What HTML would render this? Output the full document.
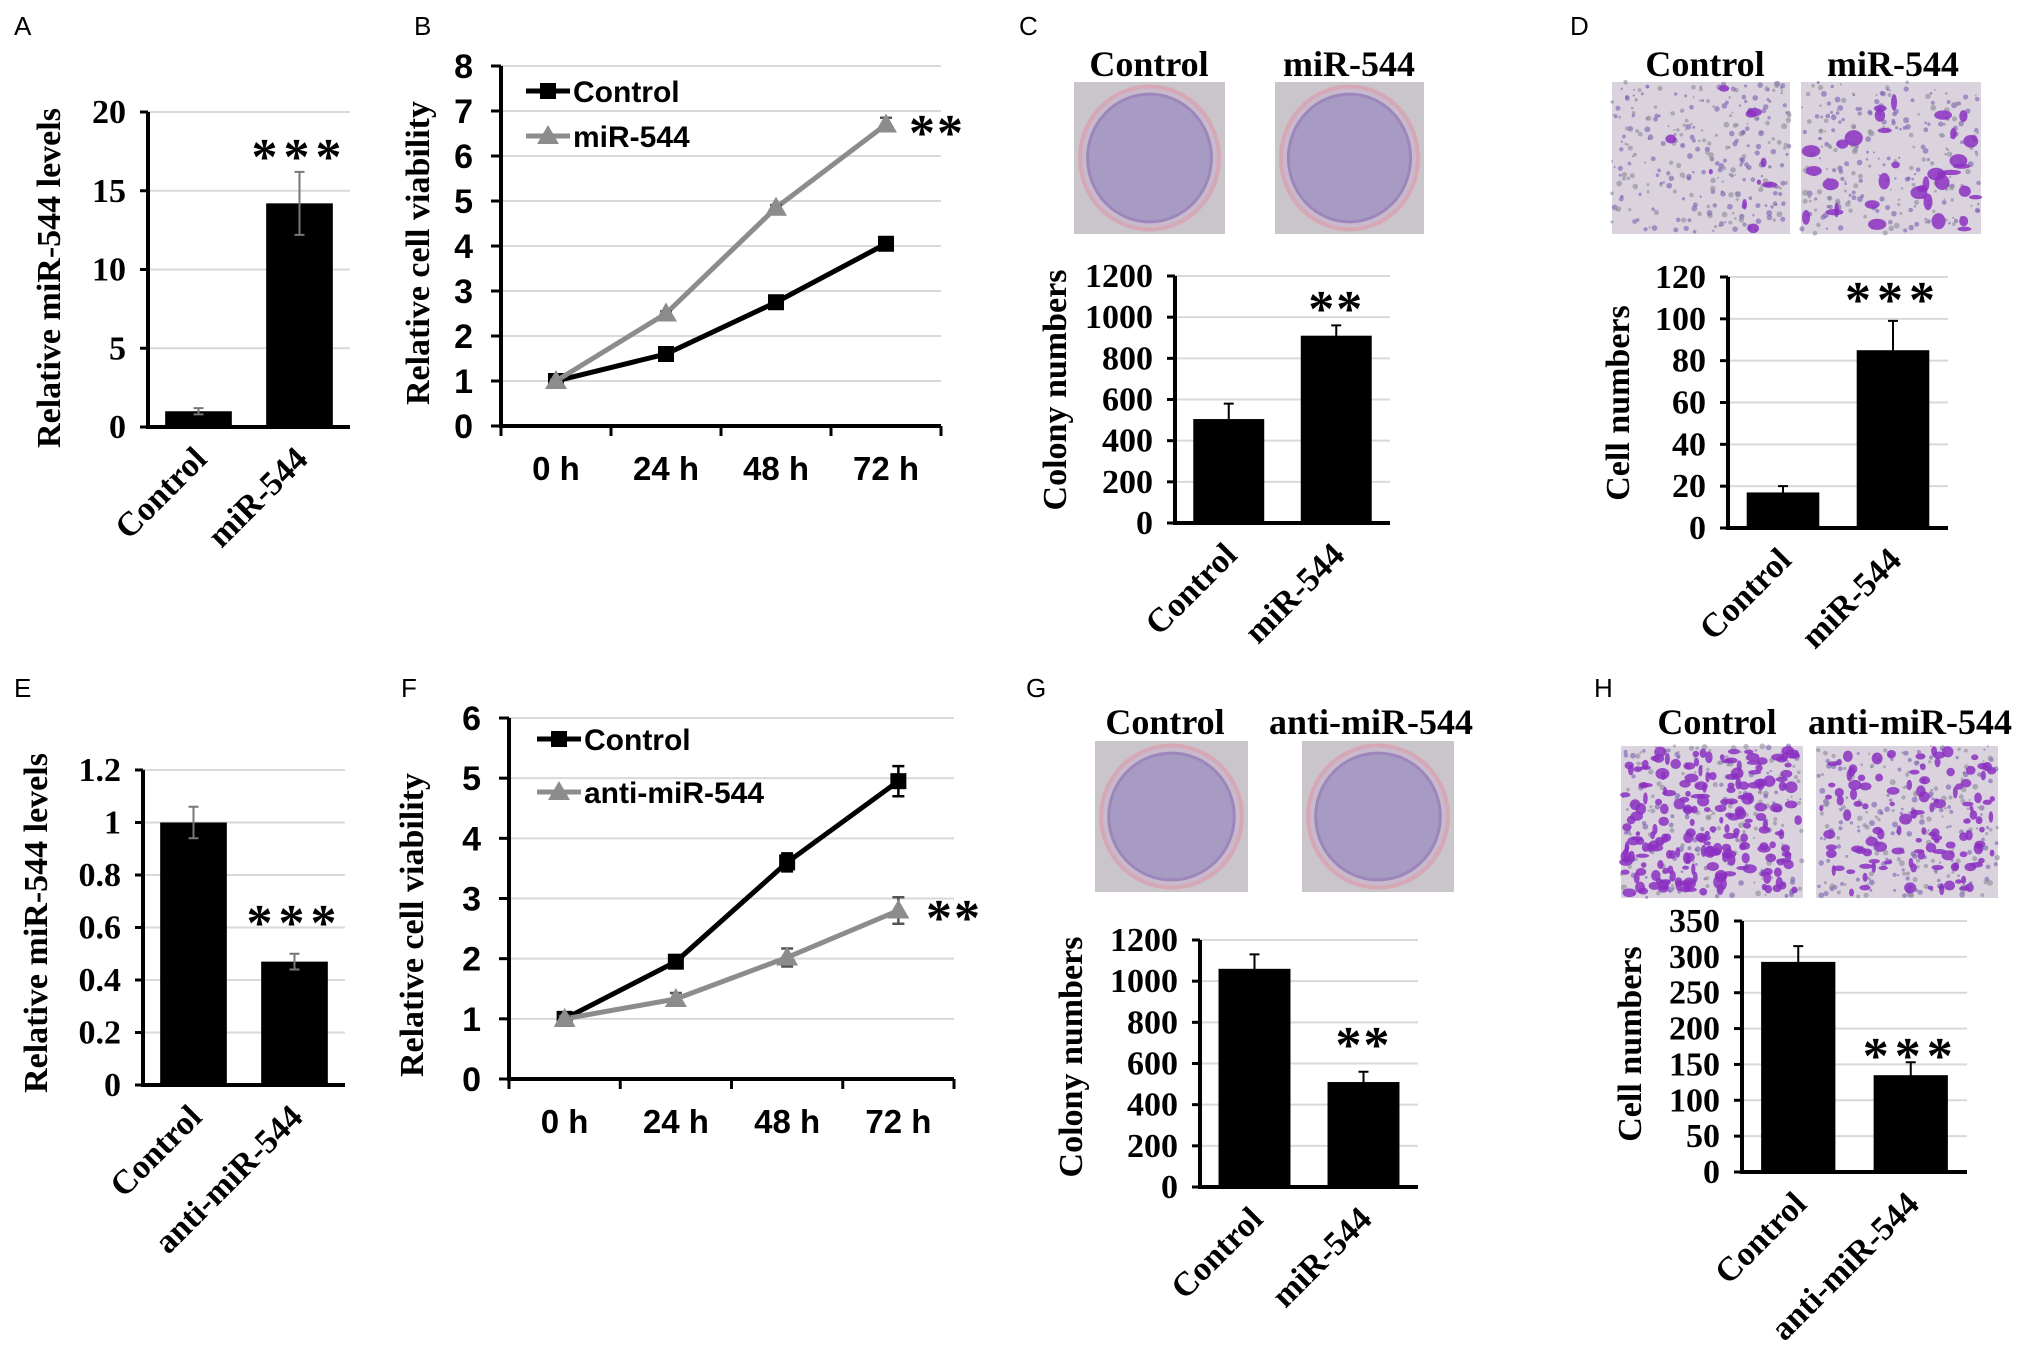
<!DOCTYPE html>
<html><head><meta charset="utf-8"><title>miR-544 figure</title>
<style>
html,body{margin:0;padding:0;background:#fff;}
svg{display:block;}
.tm{font-family:"Liberation Serif",serif;font-weight:bold;fill:#000;}
.ar{font-family:"Liberation Sans",sans-serif;font-weight:bold;fill:#000;}
.lt{font-family:"Liberation Sans",sans-serif;fill:#000;}
</style></head>
<body>
<svg id="fig" xmlns="http://www.w3.org/2000/svg" width="2031" height="1363" viewBox="0 0 2031 1363">
<rect x="0" y="0" width="2031" height="1363" fill="#fff"/>
</svg>
<script>
// ---- data ----
const barCats1 = ["Control","miR-544"];
const barCats2 = ["Control","anti-miR-544"];
const aVals = [1.0, 14.2];
const aErr = [0.2, 2.0];
const aTicks = [0,5,10,15,20];
const cVals = [505, 910];
const cErr = [75, 50];
const cTicks = [0,200,400,600,800,1000,1200];
const dVals = [17, 85];
const dErr = [3, 14];
const dTicks = [0,20,40,60,80,100,120];
const eVals = [1.0, 0.47];
const eErr = [0.06, 0.03];
const eTicks = [0,0.2,0.4,0.6,0.8,1,1.2];
const eTickLabels = ["0","0.2","0.4","0.6","0.8","1","1.2"];
const gVals = [1060, 510];
const gErr = [70, 50];
const gTicks = [0,200,400,600,800,1000,1200];
const hVals = [293, 135];
const hErr = [22, 18];
const hTicks = [0,50,100,150,200,250,300,350];
const timeCats = ["0 h","24 h","48 h","72 h"];
const bCtrl = [1, 1.6, 2.75, 4.05];
const bCtrlErr = [0.03, 0.05, 0.06, 0.1];
const bMir = [1, 2.5, 4.85, 6.7];
const bMirErr = [0.03, 0.05, 0.06, 0.15];
const bTicks = [0,1,2,3,4,5,6,7,8];
const fCtrl = [1, 1.95, 3.6, 4.95];
const fCtrlErr = [0.05, 0.1, 0.15, 0.25];
const fAnti = [1, 1.33, 2.02, 2.8];
const fAntiErr = [0.05, 0.1, 0.15, 0.22];
const fTicks = [0,1,2,3,4,5,6];

const NS = "http://www.w3.org/2000/svg";
const svg = document.getElementById("fig");
function mk(tag, attrs, parent, txt){
  const e = document.createElementNS(NS, tag);
  for (const k in attrs) e.setAttribute(k, attrs[k]);
  if (txt !== undefined) e.textContent = txt;
  (parent || svg).appendChild(e);
  return e;
}
function grp(name){
  const g = mk("g", {});
  
  
  return g;
}

const letters = [["A",14,35],["B",414,35],["C",1019,35],["D",1570,35],["E",14,697],["F",401,697],["G",1026,697],["H",1594,697]];
letters.forEach(l=>{
  const t = mk("text",{x:l[1],y:l[2],class:"lt","font-size":26},svg,l[0]);
  
  
});

function barChart(p){
  const g = grp(p.name);
  const maxV = p.ticks[p.ticks.length-1];
  const ys = v => p.y0 - (v/maxV)*(p.y0 - p.yTop);
  const slot = (p.xR - p.x0)/p.vals.length;
  const bw = slot*0.66;
  p.ticks.forEach((t,i)=>{
    const y = ys(t);
    if (t>0){
      const gl = mk("line",{x1:p.x0,x2:p.xR,y1:y,y2:y,stroke:"#d9d9d9","stroke-width":2},g);
      
      
    }
    mk("line",{x1:p.x0-8,x2:p.x0,y1:y,y2:y,stroke:"#000","stroke-width":3},g);
    const tl = mk("text",{x:p.x0-22,y:y+11,class:"tm","font-size":p.fs,"text-anchor":"end"},g,(p.tickLabels?p.tickLabels[i]:String(t)));
    
    
  });
  p.vals.forEach((v,i)=>{
    const cx = p.x0 + slot*(i+0.5);
    const r = mk("rect",{x:cx-bw/2,y:ys(v),width:bw,height:p.y0-ys(v),fill:"#000"},g);
    
    
    const ec = p.errColor;
    const eh = ys(v+p.err[i]), el = ys(v-p.err[i]);
    const eb = mk("path",{d:`M${cx},${el}V${eh}M${cx-5},${eh}H${cx+5}M${cx-5},${el}H${cx+5}`,stroke:ec,"stroke-width":2,fill:"none"},g);
    
    
    const lx = cx+10, ly = p.y0+34;
    const xl = mk("text",{x:lx,y:ly,class:"tm","font-size":p.lfs,"text-anchor":"end",transform:`rotate(-45 ${lx} ${ly})`},g,p.cats[i]);
    
    
  });
  mk("path",{d:`M${p.x0},${p.yTop}V${p.y0}H${p.xR}`,stroke:"#000","stroke-width":4,fill:"none"},g);
  const yt = mk("text",{x:p.titleX,y:p.titleY,class:"tm","font-size":p.tfs,"text-anchor":"middle",transform:`rotate(-90 ${p.titleX} ${p.titleY})`,"dominant-baseline":"middle"},g,p.title);
  
  
  const st = mk("text",{x:p.x0+slot*1.5,y:p.starY+22,class:"tm","font-size":52,"text-anchor":"middle","letter-spacing":p.stars.length>2?6:2},g,p.stars);
  
  
}

barChart({name:"panel-a-chart",cats:barCats1,vals:aVals,err:aErr,ticks:aTicks,x0:148,xR:350,y0:427,yTop:112,fs:34,lfs:34,tfs:34,errColor:"#777",title:"Relative miR-544  levels",titleX:52,titleY:278,stars:"***",starY:152});
barChart({name:"panel-c-chart",cats:barCats1,vals:cVals,err:cErr,ticks:cTicks,x0:1175,xR:1390,y0:523,yTop:276,fs:34,lfs:34,tfs:34,errColor:"#000",title:"Colony numbers",titleX:1058,titleY:390,stars:"**",starY:304});
barChart({name:"panel-d-chart",cats:barCats1,vals:dVals,err:dErr,ticks:dTicks,x0:1728,xR:1948,y0:528,yTop:277,fs:34,lfs:34,tfs:34,errColor:"#000",title:"Cell numbers",titleX:1621,titleY:403,stars:"***",starY:295});
barChart({name:"panel-e-chart",cats:barCats2,vals:eVals,err:eErr,ticks:eTicks,tickLabels:eTickLabels,x0:143,xR:345,y0:1085,yTop:770,fs:34,lfs:34,tfs:34,errColor:"#777",title:"Relative miR-544  levels",titleX:39,titleY:923,stars:"***",starY:918});
barChart({name:"panel-g-chart",cats:barCats1,vals:gVals,err:gErr,ticks:gTicks,x0:1200,xR:1418,y0:1187,yTop:940,fs:34,lfs:34,tfs:34,errColor:"#000",title:"Colony numbers",titleX:1074,titleY:1057,stars:"**",starY:1040});
barChart({name:"panel-h-chart",cats:barCats2,vals:hVals,err:hErr,ticks:hTicks,x0:1742,xR:1967,y0:1172,yTop:921,fs:34,lfs:34,tfs:34,errColor:"#000",title:"Cell numbers",titleX:1633,titleY:1044,stars:"***",starY:1051});

function lineChart(p){
  const g = grp(p.name);
  const maxV = p.ticks[p.ticks.length-1];
  const ys = v => p.y0 - (v/maxV)*(p.y0 - p.yTop);
  const slot = (p.xR - p.x0)/p.cats.length;
  const xs = i => p.x0 + slot*(i+0.5);
  p.ticks.forEach(t=>{
    const y = ys(t);
    if (t>0){
      const gl = mk("line",{x1:p.x0,x2:p.xR,y1:y,y2:y,stroke:"#d9d9d9","stroke-width":2},g);
      
      
    }
    mk("line",{x1:p.x0-10,x2:p.x0,y1:y,y2:y,stroke:"#000","stroke-width":3},g);
    const tl = mk("text",{x:p.x0-28,y:y+12,class:"ar","font-size":34,"text-anchor":"end"},g,String(t));
    
    
  });
  for (let i=0;i<=p.cats.length;i++){
    const x = p.x0 + slot*i;
    mk("line",{x1:x,x2:x,y1:p.y0,y2:p.y0+10,stroke:"#000","stroke-width":3},g);
  }
  p.cats.forEach((c,i)=>{
    const t = mk("text",{x:xs(i),y:p.y0+54,class:"ar","font-size":33,"text-anchor":"middle"},g,c);
    
    
  });
  mk("path",{d:`M${p.x0},${p.yTop}V${p.y0}H${p.xR}`,stroke:"#000","stroke-width":4,fill:"none"},g);
  const series = [
    {vals:p.s1, err:p.e1, color:"#000", marker:"square", name:"control"},
    {vals:p.s2, err:p.e2, color:"#8c8c8c", marker:"triangle", name:p.s2name}
  ];
  series.forEach(s=>{
    const sg = mk("g",{},g);
    
    
    const pts = s.vals.map((v,i)=>xs(i)+","+ys(v)).join(" ");
    mk("polyline",{points:pts,fill:"none",stroke:s.color,"stroke-width":5},sg);
    s.vals.forEach((v,i)=>{
      const x = xs(i), y = ys(v);
      const top = ys(v+s.err[i]), bot = ys(v-s.err[i]);
      mk("path",{d:`M${x},${bot}V${top}M${x-6},${top}H${x+6}M${x-6},${bot}H${x+6}`,stroke:s.color==="#000"?"#000":"#555","stroke-width":2.5,fill:"none"},sg);
      let m;
      if (s.marker==="square") m = mk("rect",{x:x-8,y:y-8,width:16,height:16,fill:s.color},sg);
      else m = mk("path",{d:`M${x},${y-11}L${x+11},${y+8}L${x-11},${y+8}Z`,fill:s.color},sg);
      
      
    });
  });
  const lg = mk("g",{},g);
  
  
  const L = [[p.leg1,"#000","square","Control"],[p.leg2,"#8c8c8c","triangle",p.s2label]];
  L.forEach(e=>{
    const [pos,col,mark,label] = e;
    const eg = mk("g",{},lg);
    
    
    mk("line",{x1:pos[0],x2:pos[0]+44,y1:pos[1],y2:pos[1],stroke:col,"stroke-width":5},eg);
    const cx = pos[0]+22, cy = pos[1];
    if (mark==="square") mk("rect",{x:cx-8,y:cy-8,width:16,height:16,fill:col},eg);
    else mk("path",{d:`M${cx},${cy-11}L${cx+11},${cy+8}L${cx-11},${cy+8}Z`,fill:col},eg);
    mk("text",{x:pos[0]+47,y:pos[1]+11,class:"ar","font-size":30},eg,label);
  });
  const yt = mk("text",{x:p.titleX,y:p.titleY,class:"tm","font-size":34,"text-anchor":"middle","dominant-baseline":"middle",transform:`rotate(-90 ${p.titleX} ${p.titleY})`},g,"Relative cell viability");
  
  
  const st = mk("text",{x:p.starX,y:p.starY+22,class:"tm","font-size":52,"text-anchor":"middle","letter-spacing":2},g,"**");
  
  
}
lineChart({name:"panel-b-chart",cats:timeCats,ticks:bTicks,x0:501,xR:941,y0:426,yTop:66,s1:bCtrl,e1:bCtrlErr,s2:bMir,e2:bMirErr,s2name:"mir-544",s2label:"miR-544",leg1:[526,91],leg2:[526,136],titleX:421,titleY:253,starX:937,starY:128});
lineChart({name:"panel-f-chart",cats:timeCats,ticks:fTicks,x0:509,xR:954,y0:1079,yTop:718,s1:fCtrl,e1:fCtrlErr,s2:fAnti,e2:fAntiErr,s2name:"anti-mir-544",s2label:"anti-miR-544",leg1:[537,739],leg2:[537,792],titleX:415,titleY:925,starX:954,starY:913});

function header(txt,x,y,name){
  const t = mk("text",{x:x,y:y,class:"tm","font-size":36,"text-anchor":"middle"},svg,txt);
  
  
}
let seed = 7;
function rnd(){ seed = (seed*16807) % 2147483647; return seed/2147483647; }
function dish(x,y,w,h,name){
  const g = grp(name);
  mk("rect",{x:x,y:y,width:w,height:h,fill:"#c9c5cb"},g);
  mk("ellipse",{cx:x+w/2,cy:y+h/2,rx:w*0.46,ry:h*0.47,fill:"#c8b9cc",stroke:"#d6a8b6","stroke-width":4},g);
  mk("ellipse",{cx:x+w/2,cy:y+h/2,rx:w*0.41,ry:h*0.42,fill:"#a79bc4",stroke:"#9d86bb","stroke-width":3},g);
}
function transwell(x,y,w,h,nBig,nSmall,rmax,name){
  const g = grp(name);
  mk("rect",{x:x,y:y,width:w,height:h,fill:"#dad3de"},g);
  for (let i=0;i<nSmall;i++){
    mk("circle",{cx:x+rnd()*w,cy:y+rnd()*h,r:1+rnd()*2,fill:rnd()<0.5?"#8e8a98":"#7a60b0",opacity:0.6},g);
  }
  for (let i=0;i<nBig;i++){
    mk("ellipse",{cx:x+4+rnd()*(w-8),cy:y+4+rnd()*(h-8),rx:2+rnd()*rmax,ry:2+rnd()*rmax*0.8,fill:"#8b30c2",opacity:0.85},g);
  }
}
header("Control",1149,76,"colony-header-control");
header("miR-544",1349,76,"colony-header-mir544");
dish(1074,82,151,152,"colony-dish-control");
dish(1275,82,149,152,"colony-dish-mir544");
header("Control",1705,76,"transwell-header-control");
header("miR-544",1893,76,"transwell-header-mir544");
transwell(1612,82,178,152,10,300,6,"transwell-image-control");
transwell(1801,82,180,152,35,260,8,"transwell-image-mir544");
header("Control",1165,734,"colony-header-control-2");
header("anti-miR-544",1371,734,"colony-header-anti");
dish(1095,741,153,151,"colony-dish-control-2");
dish(1302,741,152,151,"colony-dish-anti");
header("Control",1717,734,"transwell-header-control-2");
header("anti-miR-544",1910,734,"transwell-header-anti");
transwell(1621,746,182,152,220,250,5,"transwell-image-control-2");
transwell(1816,746,182,152,120,260,5,"transwell-image-anti");
</script>
</body></html>
